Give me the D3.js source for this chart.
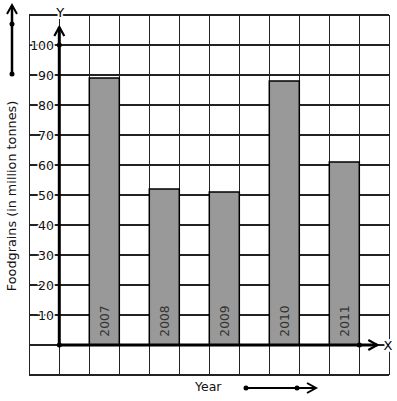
<!DOCTYPE html>
<html><head><meta charset="utf-8">
<script src="https://cdn.jsdelivr.net/npm/d3@7"></script>
<style>body{margin:0;background:#fff}svg{display:block}text{font-family:"DejaVu Sans",sans-serif}</style>
</head><body><svg id="c" width="397" height="401"></svg>
<script>
const years = ["2007","2008","2009","2010","2011"];
const foodgrains = [89, 52, 51, 88, 61];
const yTicks = [10,20,30,40,50,60,70,80,90,100];
const yTitle = "Foodgrains (in million tonnes)";
const xTitle = "Year";

const svg = d3.select("#c");
const y = d3.scaleLinear().domain([0,100]).range([345,45]);
const gx = d3.scaleLinear().domain([-1,11]).range([29.3,389.3]);
const x = d3.scaleBand().domain(years).range([gx(1), gx(10)]).paddingInner(0.5).paddingOuter(0);

const grid = svg.append("g").attr("stroke","#222").attr("stroke-width",1.2).attr("shape-rendering","crispEdges");
d3.range(-1,12).forEach(i=>grid.append("line").attr("x1",gx(i)).attr("x2",gx(i)).attr("y1",y(110)).attr("y2",y(-10)));
d3.range(-10,111,10).forEach(v=>grid.append("line").attr("y1",y(v)).attr("y2",y(v)).attr("x1",gx(-1)).attr("x2",gx(11)));

// bars
svg.append("g").selectAll("rect").data(years).join("rect")
  .attr("x",d=>x(d)).attr("width",x.bandwidth())
  .attr("y",(d,i)=>y(foodgrains[i])).attr("height",(d,i)=>y(0)-y(foodgrains[i]))
  .attr("fill","#999").attr("stroke","#000").attr("stroke-width",1.5);

svg.append("g").selectAll("text").data(years).join("text")
  .attr("transform",d=>`translate(${x(d)+x.bandwidth()/2+4.5},321) rotate(-90)`)
  .attr("text-anchor","middle").attr("font-size",12.3).attr("fill","#333").text(d=>d);

// y tick labels
svg.append("g").selectAll("text").data(yTicks).join("text")
  .attr("x",54).attr("y",d=>y(d)+4.5).attr("text-anchor","end").attr("font-size",12.5)
  .attr("fill","#111").attr("stroke","#fff").attr("stroke-width",3).attr("paint-order","stroke").text(d=>d);

// axes
const ax = svg.append("g").attr("stroke","#000").attr("fill","none");
ax.append("line").attr("x1",gx(0)).attr("x2",gx(0)).attr("y1",y(0)).attr("y2",y(106)).attr("stroke-width",3);
ax.append("path").attr("d",`M${gx(0)-5},${y(106)+9}L${gx(0)},${y(106)}L${gx(0)+5},${y(106)+9}`).attr("stroke-width",2.2);
ax.append("line").attr("x1",gx(0)).attr("x2",gx(10.6)).attr("y1",y(0)).attr("y2",y(0)).attr("stroke-width",3);
ax.append("path").attr("d",`M${gx(10.6)-9},${y(0)-5}L${gx(10.6)},${y(0)}L${gx(10.6)-9},${y(0)+5}`).attr("stroke-width",2.2);
[[gx(0),y(0)],[gx(0),y(100)],[gx(10),y(0)]].forEach(p=>svg.append("circle").attr("cx",p[0]).attr("cy",p[1]).attr("r",2.5).attr("fill","#000"));

svg.append("text").attr("x",gx(0)+1).attr("y",17).attr("text-anchor","middle").attr("font-size",13)
  .attr("stroke","#fff").attr("stroke-width",4).attr("paint-order","stroke").text("Y");
svg.append("text").attr("x",388).attr("y",y(0)+5).attr("text-anchor","middle").attr("font-size",13)
  .attr("stroke","#fff").attr("stroke-width",4).attr("paint-order","stroke").text("X");

// y title and arrow
svg.append("text").attr("transform","translate(16,196) rotate(-90)").attr("text-anchor","middle")
  .attr("font-size",12.8).attr("fill","#111").text(yTitle);
const la = svg.append("g").attr("stroke","#000").attr("fill","none");
la.append("line").attr("x1",12).attr("x2",12).attr("y1",74).attr("y2",6).attr("stroke-width",2.5);
la.append("path").attr("d","M7,14L12,5L17,14").attr("stroke-width",2);
[[12,24],[12,74]].forEach(p=>svg.append("circle").attr("cx",p[0]).attr("cy",p[1]).attr("r",2.5));

// x title and arrow
svg.append("text").attr("x",195).attr("y",391).attr("font-size",12.5).attr("fill","#111").text(xTitle);
const ba = svg.append("g").attr("stroke","#000").attr("fill","none");
ba.append("line").attr("x1",246).attr("x2",316).attr("y1",388).attr("y2",388).attr("stroke-width",2);
ba.append("path").attr("d","M307,383L316,388L307,393").attr("stroke-width",2);
[[246,388],[297,388]].forEach(p=>svg.append("circle").attr("cx",p[0]).attr("cy",p[1]).attr("r",2.5));
</script></body></html>
